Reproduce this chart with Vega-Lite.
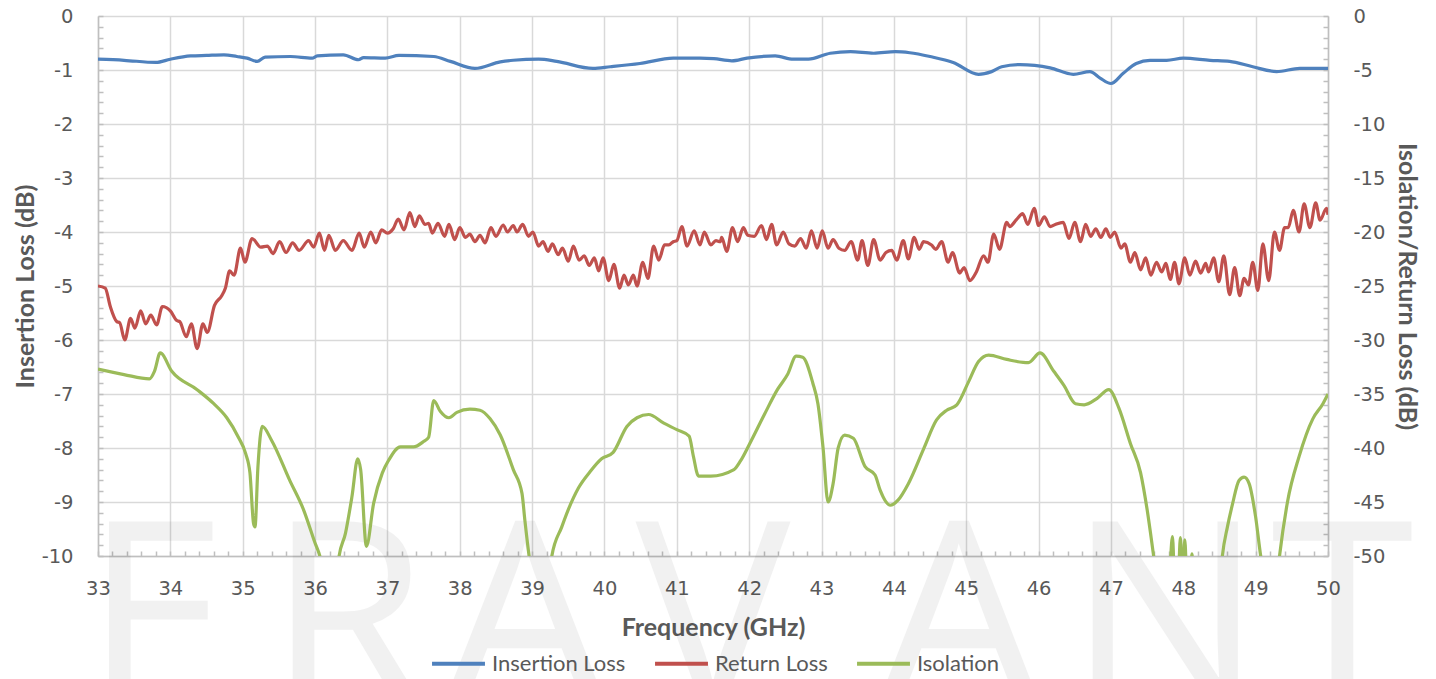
{
  "$schema": "https://vega.github.io/schema/vega-lite/v6.json",
  "width": 1230,
  "height": 540,
  "autosize": {"type": "none"},
  "padding": {"left": 98, "top": 16, "right": 108, "bottom": 123},
  "background": "white",
  "config": {
    "view": {"stroke": null},
    "font": "Lato",
    "axis": {"labelColor": "#595959", "titleColor": "#595959", "labelFont": "DejaVu Sans", "labelFontSize": 19.5, "labelOverlap": false, "titleFont": "Lato", "titleFontSize": 25, "titleFontWeight": "bold", "domainColor": "#bfbfbf", "domainWidth": 1.5, "tickColor": "#bfbfbf", "tickWidth": 1.5, "gridColor": "#d9d9d9", "gridWidth": 1.5}
  },
  "datasets": {
    "il": [
      {"f": 33.0, "v": -0.80, "s": "Insertion Loss"}, {"f": 33.36, "v": -0.82, "s": "Insertion Loss"}, {"f": 33.8, "v": -0.86, "s": "Insertion Loss"}, {"f": 34.0, "v": -0.80, "s": "Insertion Loss"}, {"f": 34.28, "v": -0.74, "s": "Insertion Loss"}, {"f": 34.5, "v": -0.73, "s": "Insertion Loss"}, {"f": 34.74, "v": -0.72, "s": "Insertion Loss"}, {"f": 34.92, "v": -0.75, "s": "Insertion Loss"}, {"f": 35.06, "v": -0.78, "s": "Insertion Loss"}, {"f": 35.2, "v": -0.84, "s": "Insertion Loss"}, {"f": 35.31, "v": -0.76, "s": "Insertion Loss"}, {"f": 35.66, "v": -0.75, "s": "Insertion Loss"}, {"f": 35.96, "v": -0.78, "s": "Insertion Loss"}, {"f": 36.03, "v": -0.74, "s": "Insertion Loss"}, {"f": 36.39, "v": -0.72, "s": "Insertion Loss"}, {"f": 36.6, "v": -0.81, "s": "Insertion Loss"}, {"f": 36.67, "v": -0.77, "s": "Insertion Loss"}, {"f": 36.97, "v": -0.78, "s": "Insertion Loss"}, {"f": 37.16, "v": -0.73, "s": "Insertion Loss"}, {"f": 37.64, "v": -0.75, "s": "Insertion Loss"}, {"f": 37.87, "v": -0.84, "s": "Insertion Loss"}, {"f": 38.21, "v": -0.97, "s": "Insertion Loss"}, {"f": 38.56, "v": -0.85, "s": "Insertion Loss"}, {"f": 38.74, "v": -0.82, "s": "Insertion Loss"}, {"f": 39.09, "v": -0.80, "s": "Insertion Loss"}, {"f": 39.34, "v": -0.84, "s": "Insertion Loss"}, {"f": 39.84, "v": -0.97, "s": "Insertion Loss"}, {"f": 40.08, "v": -0.94, "s": "Insertion Loss"}, {"f": 40.49, "v": -0.88, "s": "Insertion Loss"}, {"f": 40.95, "v": -0.78, "s": "Insertion Loss"}, {"f": 41.32, "v": -0.78, "s": "Insertion Loss"}, {"f": 41.51, "v": -0.79, "s": "Insertion Loss"}, {"f": 41.76, "v": -0.83, "s": "Insertion Loss"}, {"f": 41.97, "v": -0.78, "s": "Insertion Loss"}, {"f": 42.36, "v": -0.74, "s": "Insertion Loss"}, {"f": 42.61, "v": -0.80, "s": "Insertion Loss"}, {"f": 42.82, "v": -0.80, "s": "Insertion Loss"}, {"f": 43.12, "v": -0.69, "s": "Insertion Loss"}, {"f": 43.4, "v": -0.66, "s": "Insertion Loss"}, {"f": 43.72, "v": -0.69, "s": "Insertion Loss"}, {"f": 44.02, "v": -0.66, "s": "Insertion Loss"}, {"f": 44.22, "v": -0.68, "s": "Insertion Loss"}, {"f": 44.5, "v": -0.75, "s": "Insertion Loss"}, {"f": 44.82, "v": -0.86, "s": "Insertion Loss"}, {"f": 45.17, "v": -1.08, "s": "Insertion Loss"}, {"f": 45.35, "v": -1.03, "s": "Insertion Loss"}, {"f": 45.49, "v": -0.94, "s": "Insertion Loss"}, {"f": 45.74, "v": -0.90, "s": "Insertion Loss"}, {"f": 46.16, "v": -0.96, "s": "Insertion Loss"}, {"f": 46.48, "v": -1.08, "s": "Insertion Loss"}, {"f": 46.71, "v": -1.03, "s": "Insertion Loss"}, {"f": 46.85, "v": -1.15, "s": "Insertion Loss"}, {"f": 47.0, "v": -1.25, "s": "Insertion Loss"}, {"f": 47.17, "v": -1.06, "s": "Insertion Loss"}, {"f": 47.35, "v": -0.88, "s": "Insertion Loss"}, {"f": 47.54, "v": -0.82, "s": "Insertion Loss"}, {"f": 47.77, "v": -0.82, "s": "Insertion Loss"}, {"f": 48.0, "v": -0.78, "s": "Insertion Loss"}, {"f": 48.37, "v": -0.82, "s": "Insertion Loss"}, {"f": 48.64, "v": -0.84, "s": "Insertion Loss"}, {"f": 48.96, "v": -0.94, "s": "Insertion Loss"}, {"f": 49.29, "v": -1.03, "s": "Insertion Loss"}, {"f": 49.61, "v": -0.97, "s": "Insertion Loss"}, {"f": 50.0, "v": -0.97, "s": "Insertion Loss"}
    ],
    "rl": [
      {"f": 33.0, "v": -25.0, "s": "Return Loss"}, {"f": 33.1, "v": -25.2, "s": "Return Loss"}, {"f": 33.17, "v": -26.9, "s": "Return Loss"}, {"f": 33.26, "v": -28.3, "s": "Return Loss"}, {"f": 33.3, "v": -28.4, "s": "Return Loss"}, {"f": 33.37, "v": -30.0, "s": "Return Loss"}, {"f": 33.45, "v": -28.0, "s": "Return Loss"}, {"f": 33.51, "v": -28.9, "s": "Return Loss"}, {"f": 33.59, "v": -27.3, "s": "Return Loss"}, {"f": 33.66, "v": -28.5, "s": "Return Loss"}, {"f": 33.73, "v": -27.7, "s": "Return Loss"}, {"f": 33.81, "v": -28.6, "s": "Return Loss"}, {"f": 33.89, "v": -26.9, "s": "Return Loss"}, {"f": 34.0, "v": -27.3, "s": "Return Loss"}, {"f": 34.09, "v": -28.2, "s": "Return Loss"}, {"f": 34.13, "v": -28.3, "s": "Return Loss"}, {"f": 34.22, "v": -29.7, "s": "Return Loss"}, {"f": 34.29, "v": -28.5, "s": "Return Loss"}, {"f": 34.37, "v": -30.8, "s": "Return Loss"}, {"f": 34.45, "v": -28.5, "s": "Return Loss"}, {"f": 34.51, "v": -29.3, "s": "Return Loss"}, {"f": 34.61, "v": -26.8, "s": "Return Loss"}, {"f": 34.71, "v": -25.9, "s": "Return Loss"}, {"f": 34.76, "v": -25.2, "s": "Return Loss"}, {"f": 34.82, "v": -23.6, "s": "Return Loss"}, {"f": 34.88, "v": -24.0, "s": "Return Loss"}, {"f": 34.97, "v": -21.5, "s": "Return Loss"}, {"f": 35.03, "v": -22.8, "s": "Return Loss"}, {"f": 35.13, "v": -20.6, "s": "Return Loss"}, {"f": 35.25, "v": -21.4, "s": "Return Loss"}, {"f": 35.34, "v": -21.3, "s": "Return Loss"}, {"f": 35.42, "v": -22.0, "s": "Return Loss"}, {"f": 35.51, "v": -20.9, "s": "Return Loss"}, {"f": 35.6, "v": -21.9, "s": "Return Loss"}, {"f": 35.69, "v": -21.0, "s": "Return Loss"}, {"f": 35.78, "v": -21.7, "s": "Return Loss"}, {"f": 35.91, "v": -20.8, "s": "Return Loss"}, {"f": 35.98, "v": -21.4, "s": "Return Loss"}, {"f": 36.06, "v": -20.1, "s": "Return Loss"}, {"f": 36.13, "v": -21.7, "s": "Return Loss"}, {"f": 36.19, "v": -20.3, "s": "Return Loss"}, {"f": 36.28, "v": -21.7, "s": "Return Loss"}, {"f": 36.39, "v": -20.8, "s": "Return Loss"}, {"f": 36.51, "v": -21.7, "s": "Return Loss"}, {"f": 36.61, "v": -20.1, "s": "Return Loss"}, {"f": 36.68, "v": -21.4, "s": "Return Loss"}, {"f": 36.77, "v": -20.0, "s": "Return Loss"}, {"f": 36.84, "v": -21.0, "s": "Return Loss"}, {"f": 36.92, "v": -19.8, "s": "Return Loss"}, {"f": 37.0, "v": -20.1, "s": "Return Loss"}, {"f": 37.08, "v": -19.7, "s": "Return Loss"}, {"f": 37.15, "v": -18.8, "s": "Return Loss"}, {"f": 37.23, "v": -19.8, "s": "Return Loss"}, {"f": 37.31, "v": -18.2, "s": "Return Loss"}, {"f": 37.38, "v": -19.5, "s": "Return Loss"}, {"f": 37.44, "v": -18.5, "s": "Return Loss"}, {"f": 37.52, "v": -19.3, "s": "Return Loss"}, {"f": 37.57, "v": -19.2, "s": "Return Loss"}, {"f": 37.62, "v": -20.1, "s": "Return Loss"}, {"f": 37.7, "v": -19.2, "s": "Return Loss"}, {"f": 37.79, "v": -20.4, "s": "Return Loss"}, {"f": 37.85, "v": -19.3, "s": "Return Loss"}, {"f": 37.93, "v": -20.7, "s": "Return Loss"}, {"f": 38.0, "v": -19.6, "s": "Return Loss"}, {"f": 38.08, "v": -20.5, "s": "Return Loss"}, {"f": 38.14, "v": -20.2, "s": "Return Loss"}, {"f": 38.21, "v": -20.9, "s": "Return Loss"}, {"f": 38.28, "v": -20.3, "s": "Return Loss"}, {"f": 38.35, "v": -21.0, "s": "Return Loss"}, {"f": 38.43, "v": -19.6, "s": "Return Loss"}, {"f": 38.5, "v": -20.4, "s": "Return Loss"}, {"f": 38.6, "v": -19.35, "s": "Return Loss"}, {"f": 38.66, "v": -20.0, "s": "Return Loss"}, {"f": 38.74, "v": -19.4, "s": "Return Loss"}, {"f": 38.79, "v": -20.0, "s": "Return Loss"}, {"f": 38.87, "v": -19.3, "s": "Return Loss"}, {"f": 38.95, "v": -20.4, "s": "Return Loss"}, {"f": 39.01, "v": -20.0, "s": "Return Loss"}, {"f": 39.09, "v": -21.3, "s": "Return Loss"}, {"f": 39.15, "v": -20.9, "s": "Return Loss"}, {"f": 39.22, "v": -21.8, "s": "Return Loss"}, {"f": 39.28, "v": -21.1, "s": "Return Loss"}, {"f": 39.36, "v": -22.1, "s": "Return Loss"}, {"f": 39.42, "v": -21.5, "s": "Return Loss"}, {"f": 39.5, "v": -22.7, "s": "Return Loss"}, {"f": 39.57, "v": -21.3, "s": "Return Loss"}, {"f": 39.65, "v": -22.6, "s": "Return Loss"}, {"f": 39.72, "v": -22.2, "s": "Return Loss"}, {"f": 39.79, "v": -23.1, "s": "Return Loss"}, {"f": 39.86, "v": -22.4, "s": "Return Loss"}, {"f": 39.92, "v": -23.6, "s": "Return Loss"}, {"f": 39.98, "v": -22.4, "s": "Return Loss"}, {"f": 40.06, "v": -24.5, "s": "Return Loss"}, {"f": 40.13, "v": -23.0, "s": "Return Loss"}, {"f": 40.21, "v": -25.2, "s": "Return Loss"}, {"f": 40.27, "v": -24.0, "s": "Return Loss"}, {"f": 40.33, "v": -24.9, "s": "Return Loss"}, {"f": 40.4, "v": -24.0, "s": "Return Loss"}, {"f": 40.45, "v": -25.0, "s": "Return Loss"}, {"f": 40.53, "v": -22.8, "s": "Return Loss"}, {"f": 40.6, "v": -24.3, "s": "Return Loss"}, {"f": 40.68, "v": -21.3, "s": "Return Loss"}, {"f": 40.75, "v": -22.6, "s": "Return Loss"}, {"f": 40.83, "v": -21.2, "s": "Return Loss"}, {"f": 40.89, "v": -21.2, "s": "Return Loss"}, {"f": 40.95, "v": -20.9, "s": "Return Loss"}, {"f": 41.0, "v": -20.8, "s": "Return Loss"}, {"f": 41.07, "v": -19.5, "s": "Return Loss"}, {"f": 41.14, "v": -21.3, "s": "Return Loss"}, {"f": 41.24, "v": -19.9, "s": "Return Loss"}, {"f": 41.32, "v": -21.2, "s": "Return Loss"}, {"f": 41.38, "v": -20.0, "s": "Return Loss"}, {"f": 41.47, "v": -21.2, "s": "Return Loss"}, {"f": 41.54, "v": -20.8, "s": "Return Loss"}, {"f": 41.6, "v": -20.9, "s": "Return Loss"}, {"f": 41.62, "v": -20.5, "s": "Return Loss"}, {"f": 41.69, "v": -21.8, "s": "Return Loss"}, {"f": 41.77, "v": -19.6, "s": "Return Loss"}, {"f": 41.84, "v": -20.9, "s": "Return Loss"}, {"f": 41.92, "v": -19.6, "s": "Return Loss"}, {"f": 41.98, "v": -20.3, "s": "Return Loss"}, {"f": 42.07, "v": -20.4, "s": "Return Loss"}, {"f": 42.17, "v": -19.4, "s": "Return Loss"}, {"f": 42.24, "v": -20.7, "s": "Return Loss"}, {"f": 42.31, "v": -19.3, "s": "Return Loss"}, {"f": 42.38, "v": -21.2, "s": "Return Loss"}, {"f": 42.47, "v": -20.0, "s": "Return Loss"}, {"f": 42.55, "v": -21.1, "s": "Return Loss"}, {"f": 42.63, "v": -21.3, "s": "Return Loss"}, {"f": 42.71, "v": -20.6, "s": "Return Loss"}, {"f": 42.79, "v": -21.5, "s": "Return Loss"}, {"f": 42.86, "v": -19.9, "s": "Return Loss"}, {"f": 42.94, "v": -21.5, "s": "Return Loss"}, {"f": 43.01, "v": -19.9, "s": "Return Loss"}, {"f": 43.09, "v": -21.5, "s": "Return Loss"}, {"f": 43.16, "v": -20.7, "s": "Return Loss"}, {"f": 43.24, "v": -21.5, "s": "Return Loss"}, {"f": 43.32, "v": -21.7, "s": "Return Loss"}, {"f": 43.41, "v": -20.9, "s": "Return Loss"}, {"f": 43.5, "v": -22.6, "s": "Return Loss"}, {"f": 43.56, "v": -20.8, "s": "Return Loss"}, {"f": 43.64, "v": -23.1, "s": "Return Loss"}, {"f": 43.72, "v": -20.7, "s": "Return Loss"}, {"f": 43.81, "v": -22.6, "s": "Return Loss"}, {"f": 43.89, "v": -21.9, "s": "Return Loss"}, {"f": 43.97, "v": -21.7, "s": "Return Loss"}, {"f": 44.04, "v": -22.6, "s": "Return Loss"}, {"f": 44.13, "v": -20.8, "s": "Return Loss"}, {"f": 44.2, "v": -22.5, "s": "Return Loss"}, {"f": 44.28, "v": -20.5, "s": "Return Loss"}, {"f": 44.35, "v": -21.6, "s": "Return Loss"}, {"f": 44.41, "v": -20.9, "s": "Return Loss"}, {"f": 44.52, "v": -21.2, "s": "Return Loss"}, {"f": 44.58, "v": -21.6, "s": "Return Loss"}, {"f": 44.66, "v": -20.9, "s": "Return Loss"}, {"f": 44.75, "v": -22.8, "s": "Return Loss"}, {"f": 44.81, "v": -21.9, "s": "Return Loss"}, {"f": 44.91, "v": -23.8, "s": "Return Loss"}, {"f": 44.97, "v": -23.3, "s": "Return Loss"}, {"f": 45.05, "v": -24.5, "s": "Return Loss"}, {"f": 45.14, "v": -23.7, "s": "Return Loss"}, {"f": 45.24, "v": -22.2, "s": "Return Loss"}, {"f": 45.3, "v": -22.8, "s": "Return Loss"}, {"f": 45.38, "v": -20.2, "s": "Return Loss"}, {"f": 45.46, "v": -21.6, "s": "Return Loss"}, {"f": 45.56, "v": -19.1, "s": "Return Loss"}, {"f": 45.6, "v": -19.5, "s": "Return Loss"}, {"f": 45.7, "v": -18.8, "s": "Return Loss"}, {"f": 45.78, "v": -18.3, "s": "Return Loss"}, {"f": 45.85, "v": -19.3, "s": "Return Loss"}, {"f": 45.94, "v": -17.8, "s": "Return Loss"}, {"f": 46.0, "v": -19.4, "s": "Return Loss"}, {"f": 46.08, "v": -18.6, "s": "Return Loss"}, {"f": 46.16, "v": -19.5, "s": "Return Loss"}, {"f": 46.23, "v": -19.3, "s": "Return Loss"}, {"f": 46.34, "v": -19.1, "s": "Return Loss"}, {"f": 46.42, "v": -20.6, "s": "Return Loss"}, {"f": 46.5, "v": -19.1, "s": "Return Loss"}, {"f": 46.58, "v": -20.9, "s": "Return Loss"}, {"f": 46.65, "v": -19.3, "s": "Return Loss"}, {"f": 46.72, "v": -20.4, "s": "Return Loss"}, {"f": 46.79, "v": -19.7, "s": "Return Loss"}, {"f": 46.86, "v": -20.5, "s": "Return Loss"}, {"f": 46.93, "v": -19.7, "s": "Return Loss"}, {"f": 46.99, "v": -20.5, "s": "Return Loss"}, {"f": 47.05, "v": -20.0, "s": "Return Loss"}, {"f": 47.14, "v": -21.5, "s": "Return Loss"}, {"f": 47.19, "v": -21.1, "s": "Return Loss"}, {"f": 47.27, "v": -22.8, "s": "Return Loss"}, {"f": 47.33, "v": -21.9, "s": "Return Loss"}, {"f": 47.41, "v": -23.5, "s": "Return Loss"}, {"f": 47.48, "v": -22.4, "s": "Return Loss"}, {"f": 47.55, "v": -24.0, "s": "Return Loss"}, {"f": 47.63, "v": -22.8, "s": "Return Loss"}, {"f": 47.7, "v": -23.7, "s": "Return Loss"}, {"f": 47.76, "v": -22.9, "s": "Return Loss"}, {"f": 47.82, "v": -24.4, "s": "Return Loss"}, {"f": 47.88, "v": -22.8, "s": "Return Loss"}, {"f": 47.94, "v": -24.8, "s": "Return Loss"}, {"f": 48.02, "v": -22.4, "s": "Return Loss"}, {"f": 48.09, "v": -24.0, "s": "Return Loss"}, {"f": 48.17, "v": -22.7, "s": "Return Loss"}, {"f": 48.24, "v": -23.8, "s": "Return Loss"}, {"f": 48.31, "v": -22.9, "s": "Return Loss"}, {"f": 48.35, "v": -23.7, "s": "Return Loss"}, {"f": 48.42, "v": -22.4, "s": "Return Loss"}, {"f": 48.49, "v": -24.6, "s": "Return Loss"}, {"f": 48.56, "v": -22.2, "s": "Return Loss"}, {"f": 48.64, "v": -25.8, "s": "Return Loss"}, {"f": 48.71, "v": -23.3, "s": "Return Loss"}, {"f": 48.78, "v": -25.9, "s": "Return Loss"}, {"f": 48.84, "v": -24.3, "s": "Return Loss"}, {"f": 48.9, "v": -24.9, "s": "Return Loss"}, {"f": 48.96, "v": -22.8, "s": "Return Loss"}, {"f": 49.03, "v": -25.4, "s": "Return Loss"}, {"f": 49.1, "v": -21.1, "s": "Return Loss"}, {"f": 49.18, "v": -24.5, "s": "Return Loss"}, {"f": 49.26, "v": -20.0, "s": "Return Loss"}, {"f": 49.33, "v": -21.7, "s": "Return Loss"}, {"f": 49.4, "v": -19.6, "s": "Return Loss"}, {"f": 49.45, "v": -19.6, "s": "Return Loss"}, {"f": 49.52, "v": -18.0, "s": "Return Loss"}, {"f": 49.6, "v": -20.0, "s": "Return Loss"}, {"f": 49.67, "v": -17.4, "s": "Return Loss"}, {"f": 49.75, "v": -19.6, "s": "Return Loss"}, {"f": 49.83, "v": -17.3, "s": "Return Loss"}, {"f": 49.89, "v": -18.9, "s": "Return Loss"}, {"f": 49.98, "v": -17.8, "s": "Return Loss"}, {"f": 50.0, "v": -18.4, "s": "Return Loss"}
    ],
    "iso": [
      {"f": 33.0, "v": -32.7, "s": "Isolation"}, {"f": 33.36, "v": -33.2, "s": "Isolation"}, {"f": 33.71, "v": -33.6, "s": "Isolation"}, {"f": 33.78, "v": -32.9, "s": "Isolation"}, {"f": 33.86, "v": -31.2, "s": "Isolation"}, {"f": 34.02, "v": -32.9, "s": "Isolation"}, {"f": 34.37, "v": -34.6, "s": "Isolation"}, {"f": 34.6, "v": -35.9, "s": "Isolation"}, {"f": 34.78, "v": -37.2, "s": "Isolation"}, {"f": 34.94, "v": -39.0, "s": "Isolation"}, {"f": 35.04, "v": -40.5, "s": "Isolation"}, {"f": 35.1, "v": -42.3, "s": "Isolation"}, {"f": 35.15, "v": -47.0, "s": "Isolation"}, {"f": 35.17, "v": -47.3, "s": "Isolation"}, {"f": 35.21, "v": -41.8, "s": "Isolation"}, {"f": 35.27, "v": -38.0, "s": "Isolation"}, {"f": 35.4, "v": -39.3, "s": "Isolation"}, {"f": 35.65, "v": -43.0, "s": "Isolation"}, {"f": 35.84, "v": -45.7, "s": "Isolation"}, {"f": 36.0, "v": -48.8, "s": "Isolation"}, {"f": 36.07, "v": -50.1, "s": "Isolation"}, {"f": 36.15, "v": -53.0, "s": "Isolation"}, {"f": 36.28, "v": -53.0, "s": "Isolation"}, {"f": 36.33, "v": -50.1, "s": "Isolation"}, {"f": 36.42, "v": -47.9, "s": "Isolation"}, {"f": 36.51, "v": -44.5, "s": "Isolation"}, {"f": 36.59, "v": -41.0, "s": "Isolation"}, {"f": 36.63, "v": -42.0, "s": "Isolation"}, {"f": 36.71, "v": -49.1, "s": "Isolation"}, {"f": 36.81, "v": -45.1, "s": "Isolation"}, {"f": 36.93, "v": -42.3, "s": "Isolation"}, {"f": 37.02, "v": -41.1, "s": "Isolation"}, {"f": 37.18, "v": -39.9, "s": "Isolation"}, {"f": 37.36, "v": -39.9, "s": "Isolation"}, {"f": 37.5, "v": -39.4, "s": "Isolation"}, {"f": 37.57, "v": -39.0, "s": "Isolation"}, {"f": 37.64, "v": -35.6, "s": "Isolation"}, {"f": 37.73, "v": -36.6, "s": "Isolation"}, {"f": 37.85, "v": -37.2, "s": "Isolation"}, {"f": 37.96, "v": -36.7, "s": "Isolation"}, {"f": 38.14, "v": -36.4, "s": "Isolation"}, {"f": 38.28, "v": -36.5, "s": "Isolation"}, {"f": 38.42, "v": -37.3, "s": "Isolation"}, {"f": 38.56, "v": -38.8, "s": "Isolation"}, {"f": 38.74, "v": -42.0, "s": "Isolation"}, {"f": 38.86, "v": -44.2, "s": "Isolation"}, {"f": 38.9, "v": -46.7, "s": "Isolation"}, {"f": 38.96, "v": -50.1, "s": "Isolation"}, {"f": 39.05, "v": -54.0, "s": "Isolation"}, {"f": 39.2, "v": -54.0, "s": "Isolation"}, {"f": 39.27, "v": -50.1, "s": "Isolation"}, {"f": 39.41, "v": -47.3, "s": "Isolation"}, {"f": 39.5, "v": -45.7, "s": "Isolation"}, {"f": 39.64, "v": -43.7, "s": "Isolation"}, {"f": 39.8, "v": -42.2, "s": "Isolation"}, {"f": 39.96, "v": -41.0, "s": "Isolation"}, {"f": 40.12, "v": -40.4, "s": "Isolation"}, {"f": 40.31, "v": -38.0, "s": "Isolation"}, {"f": 40.45, "v": -37.2, "s": "Isolation"}, {"f": 40.61, "v": -36.9, "s": "Isolation"}, {"f": 40.82, "v": -37.7, "s": "Isolation"}, {"f": 41.0, "v": -38.3, "s": "Isolation"}, {"f": 41.17, "v": -38.9, "s": "Isolation"}, {"f": 41.23, "v": -40.8, "s": "Isolation"}, {"f": 41.3, "v": -42.6, "s": "Isolation"}, {"f": 41.47, "v": -42.6, "s": "Isolation"}, {"f": 41.79, "v": -42.0, "s": "Isolation"}, {"f": 41.88, "v": -41.2, "s": "Isolation"}, {"f": 42.0, "v": -39.7, "s": "Isolation"}, {"f": 42.21, "v": -36.9, "s": "Isolation"}, {"f": 42.39, "v": -34.6, "s": "Isolation"}, {"f": 42.53, "v": -33.2, "s": "Isolation"}, {"f": 42.65, "v": -31.5, "s": "Isolation"}, {"f": 42.74, "v": -31.6, "s": "Isolation"}, {"f": 42.88, "v": -34.0, "s": "Isolation"}, {"f": 42.95, "v": -35.9, "s": "Isolation"}, {"f": 43.02, "v": -39.9, "s": "Isolation"}, {"f": 43.09, "v": -45.0, "s": "Isolation"}, {"f": 43.16, "v": -43.3, "s": "Isolation"}, {"f": 43.23, "v": -40.0, "s": "Isolation"}, {"f": 43.32, "v": -38.8, "s": "Isolation"}, {"f": 43.44, "v": -39.1, "s": "Isolation"}, {"f": 43.6, "v": -41.7, "s": "Isolation"}, {"f": 43.74, "v": -42.5, "s": "Isolation"}, {"f": 43.81, "v": -43.9, "s": "Isolation"}, {"f": 43.95, "v": -45.3, "s": "Isolation"}, {"f": 44.06, "v": -44.8, "s": "Isolation"}, {"f": 44.2, "v": -43.3, "s": "Isolation"}, {"f": 44.41, "v": -40.1, "s": "Isolation"}, {"f": 44.59, "v": -37.4, "s": "Isolation"}, {"f": 44.73, "v": -36.5, "s": "Isolation"}, {"f": 44.87, "v": -36.0, "s": "Isolation"}, {"f": 45.03, "v": -33.9, "s": "Isolation"}, {"f": 45.17, "v": -32.0, "s": "Isolation"}, {"f": 45.31, "v": -31.4, "s": "Isolation"}, {"f": 45.56, "v": -31.8, "s": "Isolation"}, {"f": 45.86, "v": -32.1, "s": "Isolation"}, {"f": 46.02, "v": -31.2, "s": "Isolation"}, {"f": 46.21, "v": -32.9, "s": "Isolation"}, {"f": 46.35, "v": -34.2, "s": "Isolation"}, {"f": 46.51, "v": -35.9, "s": "Isolation"}, {"f": 46.63, "v": -36.0, "s": "Isolation"}, {"f": 46.81, "v": -35.4, "s": "Isolation"}, {"f": 46.97, "v": -34.6, "s": "Isolation"}, {"f": 47.11, "v": -36.3, "s": "Isolation"}, {"f": 47.27, "v": -39.6, "s": "Isolation"}, {"f": 47.41, "v": -42.3, "s": "Isolation"}, {"f": 47.5, "v": -45.7, "s": "Isolation"}, {"f": 47.59, "v": -50.0, "s": "Isolation"}, {"f": 47.65, "v": -53.0, "s": "Isolation"}, {"f": 47.8, "v": -52.5, "s": "Isolation"}, {"f": 47.85, "v": -48.2, "s": "Isolation"}, {"f": 47.88, "v": -52.0, "s": "Isolation"}, {"f": 47.93, "v": -52.0, "s": "Isolation"}, {"f": 47.96, "v": -48.3, "s": "Isolation"}, {"f": 47.99, "v": -52.0, "s": "Isolation"}, {"f": 48.0, "v": -52.0, "s": "Isolation"}, {"f": 48.02, "v": -48.5, "s": "Isolation"}, {"f": 48.05, "v": -52.0, "s": "Isolation"}, {"f": 48.1, "v": -52.0, "s": "Isolation"}, {"f": 48.12, "v": -49.8, "s": "Isolation"}, {"f": 48.14, "v": -52.0, "s": "Isolation"}, {"f": 48.5, "v": -53.0, "s": "Isolation"}, {"f": 48.54, "v": -50.0, "s": "Isolation"}, {"f": 48.61, "v": -47.3, "s": "Isolation"}, {"f": 48.68, "v": -45.2, "s": "Isolation"}, {"f": 48.77, "v": -43.0, "s": "Isolation"}, {"f": 48.84, "v": -42.7, "s": "Isolation"}, {"f": 48.91, "v": -43.3, "s": "Isolation"}, {"f": 49.0, "v": -46.4, "s": "Isolation"}, {"f": 49.07, "v": -50.0, "s": "Isolation"}, {"f": 49.15, "v": -53.0, "s": "Isolation"}, {"f": 49.28, "v": -53.0, "s": "Isolation"}, {"f": 49.33, "v": -50.0, "s": "Isolation"}, {"f": 49.44, "v": -45.0, "s": "Isolation"}, {"f": 49.6, "v": -40.8, "s": "Isolation"}, {"f": 49.79, "v": -37.3, "s": "Isolation"}, {"f": 49.93, "v": -35.9, "s": "Isolation"}, {"f": 50.0, "v": -35.0, "s": "Isolation"}
    ],
    "wm": [
      {"f": 33.8, "v": -12.8, "t": "E"}, {"f": 36.45, "v": -12.8, "t": "R"}, {"f": 38.9, "v": -12.8, "t": "A"}, {"f": 41.5, "v": -12.8, "t": "V"}, {"f": 44.9, "v": -12.8, "t": "A"}, {"f": 47.75, "v": -12.8, "t": "N"}, {"f": 50.2, "v": -12.8, "t": "T"}
    ]
  },
  "encoding": {
    "x": {
      "field": "f", "type": "quantitative",
      "scale": {"domain": [33, 50], "nice": false, "zero": false},
      "axis": {
        "title": "Frequency (GHz)",
        "values": [33,33.2,33.4,33.6,33.8,34,34.2,34.4,34.6,34.8,35,35.2,35.4,35.6,35.8,36,36.2,36.4,36.6,36.8,37,37.2,37.4,37.6,37.8,38,38.2,38.4,38.6,38.8,39,39.2,39.4,39.6,39.8,40,40.2,40.4,40.6,40.8,41,41.2,41.4,41.6,41.8,42,42.2,42.4,42.6,42.8,43,43.2,43.4,43.6,43.8,44,44.2,44.4,44.6,44.8,45,45.2,45.4,45.6,45.8,46,46.2,46.4,46.6,46.8,47,47.2,47.4,47.6,47.8,48,48.2,48.4,48.6,48.8,49,49.2,49.4,49.6,49.8,50],
        "tickCount": 200,
        "labelExpr": "datum.value % 1 === 0 ? '' + datum.value : ''",
        "gridOpacity": {"condition": {"test": "datum.value % 1 === 0", "value": 1}, "value": 0},
        "tickSize": -5,
        "labelPadding": 28,
        "titlePadding": 18,
        "labelFlush": false
      }
    }
  },
  "layer": [
    {
      "layer": [
        {
          "data": {"name": "wm"},
          "mark": {"type": "text", "font": "Open Sans", "fontSize": 260, "color": "#000000", "opacity": 0.05, "align": "center", "baseline": "alphabetic"},
          "encoding": {
            "y": {"field": "v", "type": "quantitative", "scale": {"domain": [-10, 0], "nice": false}, "axis": {"tickCount": 200}},
            "text": {"field": "t"}
          }
        },
        {
          "data": {"name": "il"},
          "mark": {"type": "line", "strokeWidth": 3.2, "interpolate": "monotone", "clip": true},
          "encoding": {
            "y": {
              "field": "v", "type": "quantitative",
              "scale": {"domain": [-10, 0], "nice": false},
              "axis": {
                "orient": "left",
                "title": "Insertion Loss (dB)",
                "values": [0,-0.2,-0.4,-0.6,-0.8,-1,-1.2,-1.4,-1.6,-1.8,-2,-2.2,-2.4,-2.6,-2.8,-3,-3.2,-3.4,-3.6,-3.8,-4,-4.2,-4.4,-4.6,-4.8,-5,-5.2,-5.4,-5.6,-5.8,-6,-6.2,-6.4,-6.6,-6.8,-7,-7.2,-7.4,-7.6,-7.8,-8,-8.2,-8.4,-8.6,-8.8,-9,-9.2,-9.4,-9.6,-9.8,-10],
                "tickCount": 200,
                "labelExpr": "datum.value % 1 === 0 ? '' + datum.value : ''",
                "gridOpacity": {"condition": {"test": "datum.value % 1 === 0", "value": 1}, "value": 0},
                "tickSize": -5,
                "labelPadding": 30,
                "titlePadding": 3
              }
            },
            "color": {
              "field": "s", "type": "nominal",
              "scale": {"domain": ["Insertion Loss", "Return Loss", "Isolation"], "range": ["#4f81bd", "#c0504d", "#9bbb59"]},
              "legend": {"orient": "none", "legendX": 332, "legendY": 619, "direction": "horizontal", "title": null, "symbolType": "stroke", "symbolStrokeWidth": 4, "symbolSize": 2800, "labelFontSize": 22, "labelColor": "#595959", "labelFont": "Lato", "columnPadding": 21, "labelOffset": 5}
            }
          }
        }
      ]
    },
    {
      "data": {"name": "rl"},
      "layer": [
        {
          "mark": {"type": "line", "strokeWidth": 3.2, "interpolate": "monotone", "clip": true},
          "encoding": {
            "y": {
              "field": "v", "type": "quantitative",
              "scale": {"domain": [-50, 0], "nice": false},
              "axis": {
                "orient": "right",
                "title": "Isolation/Return Loss (dB)",
                "values": [0,-1,-2,-3,-4,-5,-6,-7,-8,-9,-10,-11,-12,-13,-14,-15,-16,-17,-18,-19,-20,-21,-22,-23,-24,-25,-26,-27,-28,-29,-30,-31,-32,-33,-34,-35,-36,-37,-38,-39,-40,-41,-42,-43,-44,-45,-46,-47,-48,-49,-50],
                "tickCount": 200,
                "labelExpr": "datum.value % 5 === 0 ? '' + datum.value : ''",
                "grid": false,
                "tickSize": -5,
                "labelPadding": 30,
                "titlePadding": 9
              }
            },
            "color": {"field": "s", "type": "nominal"}
          }
        },
        {
          "data": {"name": "iso"},
          "mark": {"type": "line", "strokeWidth": 3.2, "interpolate": "monotone", "clip": true},
          "encoding": {
            "y": {"field": "v", "type": "quantitative", "scale": {"domain": [-50, 0], "nice": false}, "axis": {"tickCount": 200}},
            "color": {"field": "s", "type": "nominal"}
          }
        }
      ]
    }
  ],
  "resolve": {"scale": {"y": "independent"}}
}
